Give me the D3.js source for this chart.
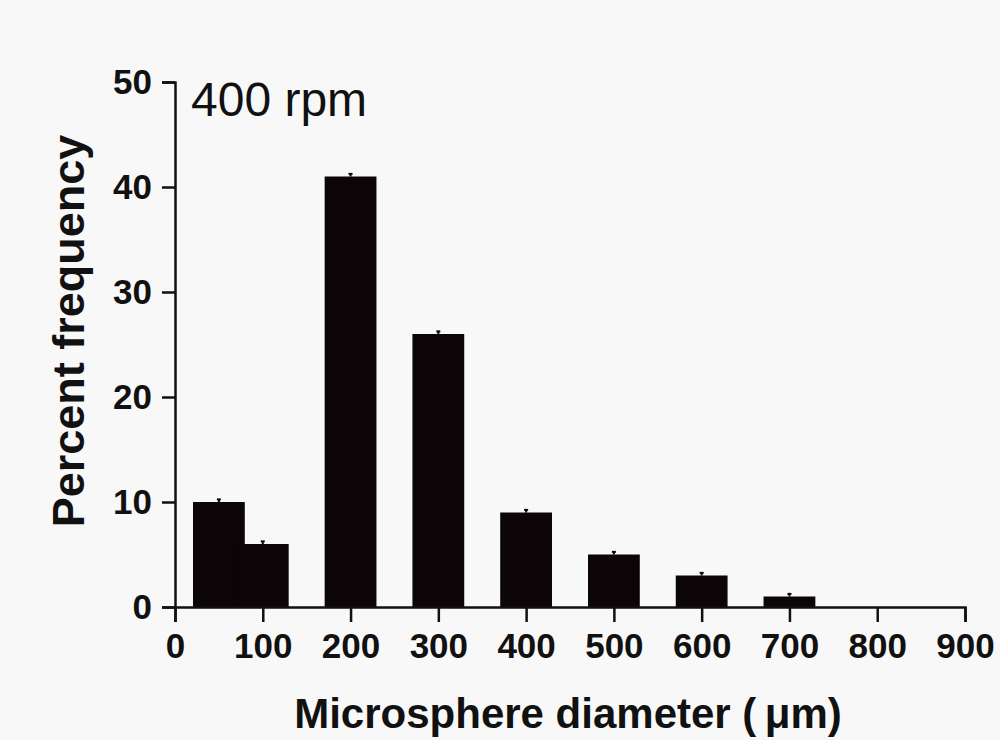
<!DOCTYPE html>
<html lang="en">
<head>
  <meta charset="utf-8">
  <title>Microsphere diameter distribution</title>
  <script src="https://cdn.jsdelivr.net/npm/d3@7"></script>
  <style>
    * { margin: 0; padding: 0; }
    body { background: #f8f8f8; }
    svg { display: block; }
  </style>
</head>
<body>
  <div id="chart"></div>
  <script>
    // values
    const diameters = [50, 100, 200, 300, 400, 500, 600, 700];
    const percents  = [10, 6, 41, 26, 9, 5, 3, 1];
    const errors    = [0.25, 0.25, 0.25, 0.25, 0.25, 0.25, 0.25, 0.25];
    const xTicks = [0, 100, 200, 300, 400, 500, 600, 700, 800, 900];
    const yTicks = [0, 10, 20, 30, 40, 50];

    const W = 1000, H = 740;
    const margin = {top: 82, right: 35, bottom: 133, left: 175};
    const barW = 59; // in micrometres

    const svg = d3.select("#chart").append("svg")
      .attr("width", W)
      .attr("height", H);

    svg.append("rect")
      .attr("width", W).attr("height", H)
      .attr("fill", "#f8f8f8");

    const x = d3.scaleLinear().domain([0, 900]).range([margin.left, W - margin.right]);
    const y = d3.scaleLinear().domain([0, 50]).range([H - margin.bottom, margin.top]);

    const data = diameters.map((d, i) => ({d: d, p: percents[i], e: errors[i]}));

    // bars
    svg.append("g").selectAll("rect")
      .data(data)
      .join("rect")
        .attr("x", d => x(d.d - barW / 2))
        .attr("width", d => x(d.d + barW / 2) - x(d.d - barW / 2))
        .attr("y", d => y(d.p))
        .attr("height", d => y(0) - y(d.p))
        .attr("fill", "#0b0507");

    // tiny error bars
    const eb = svg.append("g")
      .attr("stroke", "#0b0507")
      .attr("stroke-width", 2);
    eb.selectAll("line.v")
      .data(data)
      .join("line")
        .attr("class", "v")
        .attr("x1", d => x(d.d)).attr("x2", d => x(d.d))
        .attr("y1", d => y(d.p)).attr("y2", d => y(d.p + d.e));
    eb.selectAll("line.c")
      .data(data)
      .join("line")
        .attr("class", "c")
        .attr("x1", d => x(d.d) - 2).attr("x2", d => x(d.d) + 2)
        .attr("y1", d => y(d.p + d.e)).attr("y2", d => y(d.p + d.e));

    const tickFont = "'Liberation Sans', Arial, sans-serif";

    // x axis
    const gx = svg.append("g")
      .attr("transform", `translate(0,${y(0)})`)
      .call(d3.axisBottom(x).tickValues(xTicks).tickFormat(d3.format("d"))
        .tickSize(15).tickPadding(11));

    // y axis
    const gy = svg.append("g")
      .attr("transform", `translate(${x(0)},0)`)
      .call(d3.axisLeft(y).tickValues(yTicks).tickFormat(d3.format("d"))
        .tickSize(13).tickSizeOuter(13).tickPadding(10));

    [gx, gy].forEach(g => {
      g.selectAll(".domain, .tick line")
        .attr("stroke", "#111")
        .attr("stroke-width", 2.5);
      g.selectAll(".tick text")
        .attr("fill", "#111")
        .style("font-family", tickFont)
        .style("font-weight", "bold")
        .style("font-size", "35px");
    });

    // axis titles
    svg.append("text")
      .attr("x", 568)
      .attr("y", 728)
      .attr("text-anchor", "middle")
      .style("font-family", tickFont)
      .style("font-weight", "bold")
      .style("font-size", "42px")
      .attr("fill", "#111")
      .text("Microsphere diameter (\u2009\u03bcm)");

    svg.append("text")
      .attr("transform", "translate(84,331) rotate(-90)")
      .attr("text-anchor", "middle")
      .style("font-family", tickFont)
      .style("font-weight", "bold")
      .style("font-size", "45px")
      .attr("fill", "#111")
      .text("Percent frequency");

    // panel label
    svg.append("text")
      .attr("x", 191)
      .attr("y", 116)
      .style("font-family", tickFont)
      .style("font-size", "48px")
      .attr("fill", "#111")
      .text("400 rpm");
  </script>
</body>
</html>
